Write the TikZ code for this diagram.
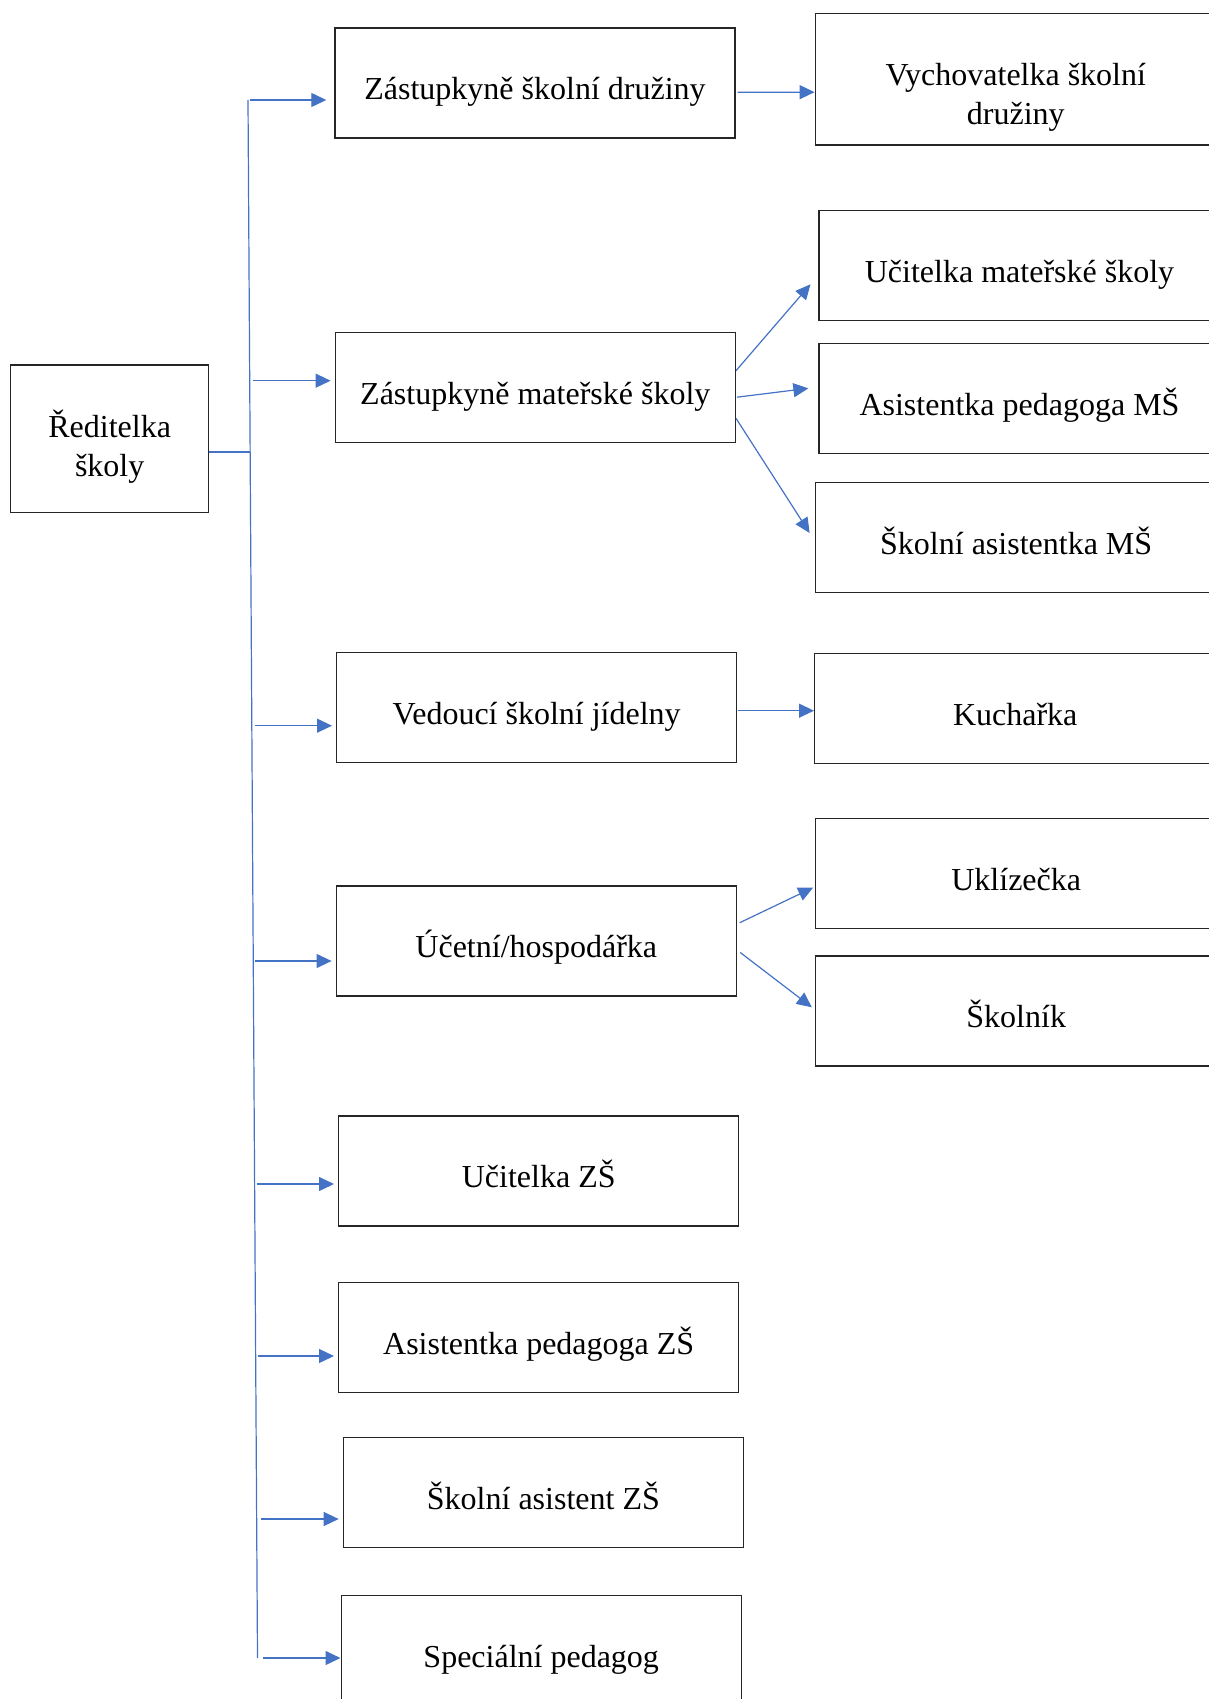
\documentclass[tikz,border=0pt]{standalone}
\usepackage{fontspec}
\setmainfont{Liberation Serif}
\usetikzlibrary{arrows.meta}
\definecolor{linkblue}{HTML}{4472C4}
\definecolor{boxline}{HTML}{262626}

\begin{document}
\begin{tikzpicture}[x=1pt, y=-1pt,
	box/.style={draw=boxline, line width=1.4pt, inner sep=0pt, minimum width=400pt, text height=72pt, text depth=38pt, font=\fontsize{32}{39}\selectfont},
	link/.style={draw=linkblue, line width=1.2pt},
	arr/.style={link, -{Triangle[length=15pt, width=14pt]}}]
	\useasboundingbox (0,0) rectangle (1209,1699);
	\clip (0,0) rectangle (1209,1699);

	\node[box, minimum width=198pt, text height=72.3pt, text depth=75.4pt] (rs) at (109.7,438.85) {\begin{tabular}[t]{@{}c@{}}Ředitelka\\školy\end{tabular}};

	\node[box] (zsd) at (535,83) {Zástupkyně školní družiny};
	\node[box] (zms) at (535.3,387.7) {Zástupkyně mateřské školy};
	\node[box] (vsj) at (536.7,707.7) {Vedoucí školní jídelny};
	\node[box] (uh) at (536.3,940.8) {Účetní/hospodářka};
	\node[box] (uzs) at (538.7,1170.8) {Učitelka ZŠ};
	\node[box] (apzs) at (538.7,1337.7) {Asistentka pedagoga ZŠ};
	\node[box] (szs) at (543.4,1492.3) {Školní asistent ZŠ};
	\node[box] (sp) at (541.2,1650.7) {Speciální pedagog};

	\node[box, minimum width=401pt, text height=72.7pt, text depth=59pt] (vsd) at (1015.8,79.15) {\begin{tabular}[t]{@{}c@{}}Vychovatelka školní\\družiny\end{tabular}};
	\node[box, minimum width=401pt] (umss) at (1019.5,265.7) {Učitelka mateřské školy};
	\node[box, minimum width=401pt] (apms) at (1019.5,398.7) {Asistentka pedagoga MŠ};
	\node[box, minimum width=401pt] (sams) at (1016.2,537.3) {Školní asistentka MŠ};
	\node[box, minimum width=401pt] (kuch) at (1015.2,708.3) {Kuchařka};
	\node[box, minimum width=401pt] (ukl) at (1016.2,873.5) {Uklízečka};
	\node[box, minimum width=401pt] (skol) at (1016.2,1010.8) {Školník};

	\coordinate (ttop) at (248,100);
	\coordinate (tbot) at (257.5,1658);
	\coordinate (tr) at (250.3,452);
	\coordinate (t2) at (249.7,380.7);
	\coordinate (t3) at (251.8,725.7);
	\coordinate (t4) at (253.3,961);
	\coordinate (t5) at (254.6,1184);
	\coordinate (t6) at (255.7,1356);
	\coordinate (t7) at (256.6,1519);

	\draw[link] (ttop) -- (tbot);
	\draw[link] (tr -| rs.east) -- (tr);
	\draw[arr, shorten <=2pt, shorten >=8pt] (ttop) -- (ttop -| zsd.west);
	\draw[arr, shorten <=3pt, shorten >=4pt] (t2) -- (t2 -| zms.west);
	\draw[arr, shorten <=3pt, shorten >=4pt] (t3) -- (t3 -| vsj.west);
	\draw[arr, shorten <=2pt, shorten >=4pt] (t4) -- (t4 -| uh.west);
	\draw[arr, shorten <=2pt, shorten >=4pt] (t5) -- (t5 -| uzs.west);
	\draw[arr, shorten <=2pt, shorten >=4pt] (t6) -- (t6 -| apzs.west);
	\draw[arr, shorten <=4pt, shorten >=4pt] (t7) -- (t7 -| szs.west);
	\draw[arr, shorten <=5pt] (tbot) -- (tbot -| sp.west);

	\draw[arr, shorten <=2pt] ([yshift=-9.3pt]zsd.east) -- ([yshift=-13pt]vsd.west);
	\draw[arr, shorten >=12pt] ([yshift=17pt]zms.east) -- ([yshift=-9.5pt]umss.west);
	\draw[arr, shorten <=1pt, shorten >=10pt] ([yshift=-9.6pt]zms.east) -- ([yshift=11.6pt]apms.west);
	\draw[arr, shorten >=10pt] ([yshift=-30.6pt]zms.east) -- ([yshift=-4.1pt]sams.west);
	\draw[arr, shorten <=1pt] ([yshift=-3pt]vsj.east) -- ([yshift=-2.4pt]kuch.west);
	\draw[arr, shorten <=3pt, shorten >=2pt] ([yshift=16.8pt]uh.east) -- ([yshift=-13.2pt]ukl.west);
	\draw[arr, shorten <=4pt, shorten >=4pt] ([yshift=-9.2pt]uh.east) -- ([yshift=1.1pt]skol.west);
\end{tikzpicture}
\end{document}
